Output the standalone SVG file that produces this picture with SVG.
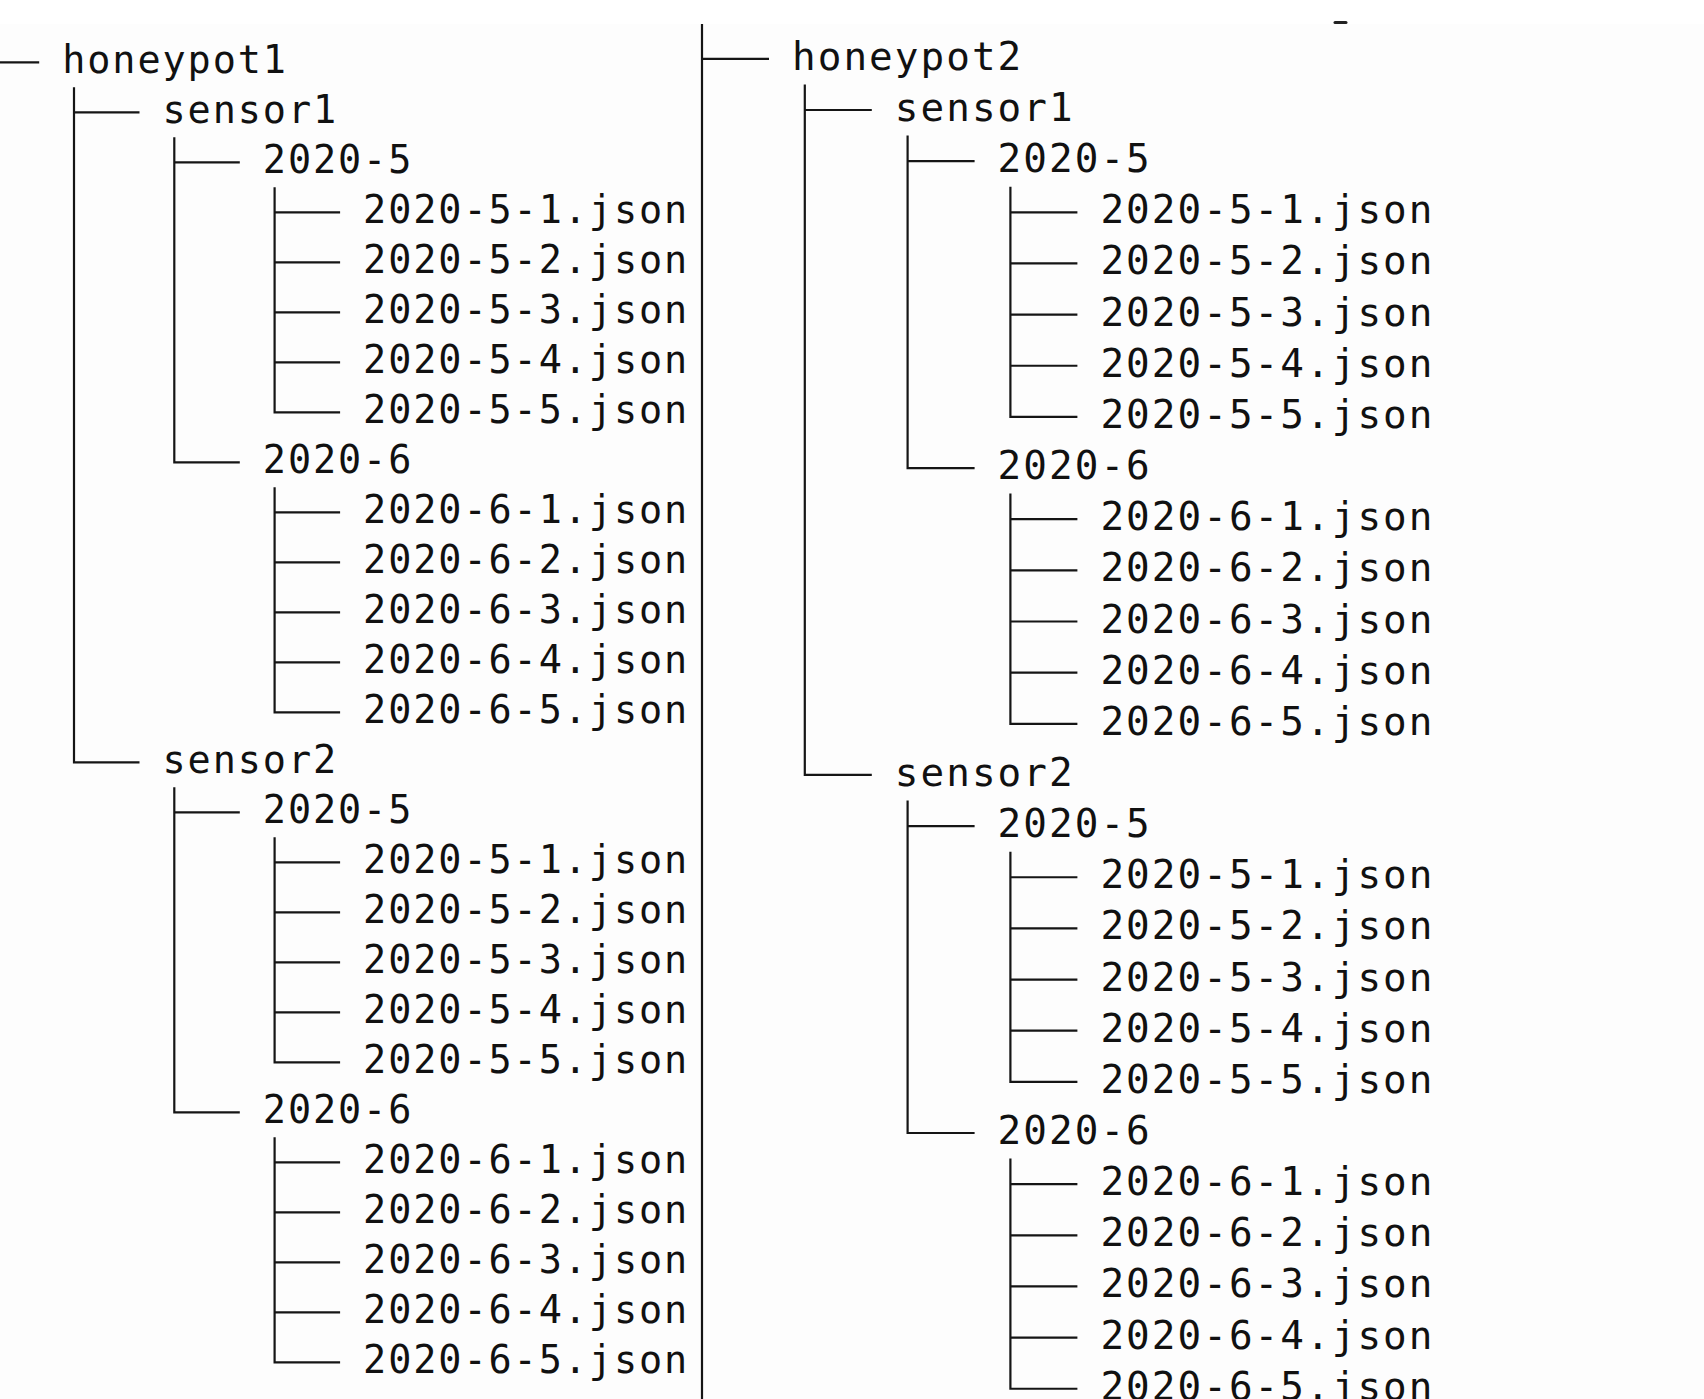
<svg xmlns="http://www.w3.org/2000/svg" width="1704" height="1399" viewBox="0 0 1704 1399">
  <style>
    .t { font-family: "DejaVu Sans Mono", "Liberation Mono", monospace; fill: #111; }
    .tl { font-size: 38.5px; letter-spacing: 1.9px; }
    .tr { font-size: 39.3px; letter-spacing: 2.04px; }
    .c path { fill: none; stroke: #151515; stroke-width: 2.2; stroke-linejoin: miter; stroke-linecap: butt; }
  </style>

  <!-- page background -->
  <rect x="0" y="0" width="1704" height="1399" fill="#ffffff"/>
  <rect x="0" y="24" width="1704" height="1375" fill="#fdfdfd"/>
  <!-- clipped glyph fragment at the top edge -->
  <path d="M1335,22.5 H1346" stroke="#222" stroke-width="3" stroke-linecap="round"/>

  <!-- tree branches -->
  <g id="connectors" class="c">
    <!-- honeypot1 tree -->
    <path d="M-26.3,62.3 H39.2"/>
    <path d="M74,87.3 V762.3 H139.5 M74,112.3 H139.5"/>
    <path d="M174.3,137.3 V462.3 H239.8 M174.3,162.3 H239.8"/>
    <path d="M174.3,787.3 V1112.3 H239.8 M174.3,812.3 H239.8"/>
    <path d="M274.6,187.3 V412.3 H340.1 M274.6,212.3 H340.1 M274.6,262.3 H340.1 M274.6,312.3 H340.1 M274.6,362.3 H340.1"/>
    <path d="M274.6,487.3 V712.3 H340.1 M274.6,512.3 H340.1 M274.6,562.3 H340.1 M274.6,612.3 H340.1 M274.6,662.3 H340.1"/>
    <path d="M274.6,837.3 V1062.3 H340.1 M274.6,862.3 H340.1 M274.6,912.3 H340.1 M274.6,962.3 H340.1 M274.6,1012.3 H340.1"/>
    <path d="M274.6,1137.3 V1362.3 H340.1 M274.6,1162.3 H340.1 M274.6,1212.3 H340.1 M274.6,1262.3 H340.1 M274.6,1312.3 H340.1"/>

    <!-- honeypot2 tree -->
    <path d="M702,24 V1399 M702,58.85 H769"/>
    <path d="M804.8,84.4 V774.95 H871.8 M804.8,110 H871.8"/>
    <path d="M907.6,135.55 V468.05 H974.6 M907.6,161.15 H974.6"/>
    <path d="M907.6,800.5 V1133 H974.6 M907.6,826.1 H974.6"/>
    <path d="M1010.4,186.7 V416.9 H1077.4 M1010.4,212.3 H1077.4 M1010.4,263.45 H1077.4 M1010.4,314.6 H1077.4 M1010.4,365.75 H1077.4"/>
    <path d="M1010.4,493.6 V723.8 H1077.4 M1010.4,519.2 H1077.4 M1010.4,570.35 H1077.4 M1010.4,621.5 H1077.4 M1010.4,672.65 H1077.4"/>
    <path d="M1010.4,851.65 V1081.85 H1077.4 M1010.4,877.25 H1077.4 M1010.4,928.4 H1077.4 M1010.4,979.55 H1077.4 M1010.4,1030.7 H1077.4"/>
    <path d="M1010.4,1158.55 V1388.75 H1077.4 M1010.4,1184.15 H1077.4 M1010.4,1235.3 H1077.4 M1010.4,1286.45 H1077.4 M1010.4,1337.6 H1077.4"/>
  </g>

  <!-- honeypot1 -->
  <g id="hp1"><text class="t tl" x="62.2" y="72.8">honeypot1</text></g>
  <g id="hp1-s1"><text class="t tl" x="162.5" y="122.8">sensor1</text></g>
  <g id="hp1-s1-m5"><text class="t tl" x="262.8" y="172.8">2020-5</text></g>
  <g id="hp1-s1-m5-1"><text class="t tl" x="363.1" y="222.8">2020-5-1.json</text></g>
  <g id="hp1-s1-m5-2"><text class="t tl" x="363.1" y="272.8">2020-5-2.json</text></g>
  <g id="hp1-s1-m5-3"><text class="t tl" x="363.1" y="322.8">2020-5-3.json</text></g>
  <g id="hp1-s1-m5-4"><text class="t tl" x="363.1" y="372.8">2020-5-4.json</text></g>
  <g id="hp1-s1-m5-5"><text class="t tl" x="363.1" y="422.8">2020-5-5.json</text></g>
  <g id="hp1-s1-m6"><text class="t tl" x="262.8" y="472.8">2020-6</text></g>
  <g id="hp1-s1-m6-1"><text class="t tl" x="363.1" y="522.8">2020-6-1.json</text></g>
  <g id="hp1-s1-m6-2"><text class="t tl" x="363.1" y="572.8">2020-6-2.json</text></g>
  <g id="hp1-s1-m6-3"><text class="t tl" x="363.1" y="622.8">2020-6-3.json</text></g>
  <g id="hp1-s1-m6-4"><text class="t tl" x="363.1" y="672.8">2020-6-4.json</text></g>
  <g id="hp1-s1-m6-5"><text class="t tl" x="363.1" y="722.8">2020-6-5.json</text></g>
  <g id="hp1-s2"><text class="t tl" x="162.5" y="772.8">sensor2</text></g>
  <g id="hp1-s2-m5"><text class="t tl" x="262.8" y="822.8">2020-5</text></g>
  <g id="hp1-s2-m5-1"><text class="t tl" x="363.1" y="872.8">2020-5-1.json</text></g>
  <g id="hp1-s2-m5-2"><text class="t tl" x="363.1" y="922.8">2020-5-2.json</text></g>
  <g id="hp1-s2-m5-3"><text class="t tl" x="363.1" y="972.8">2020-5-3.json</text></g>
  <g id="hp1-s2-m5-4"><text class="t tl" x="363.1" y="1022.8">2020-5-4.json</text></g>
  <g id="hp1-s2-m5-5"><text class="t tl" x="363.1" y="1072.8">2020-5-5.json</text></g>
  <g id="hp1-s2-m6"><text class="t tl" x="262.8" y="1122.8">2020-6</text></g>
  <g id="hp1-s2-m6-1"><text class="t tl" x="363.1" y="1172.8">2020-6-1.json</text></g>
  <g id="hp1-s2-m6-2"><text class="t tl" x="363.1" y="1222.8">2020-6-2.json</text></g>
  <g id="hp1-s2-m6-3"><text class="t tl" x="363.1" y="1272.8">2020-6-3.json</text></g>
  <g id="hp1-s2-m6-4"><text class="t tl" x="363.1" y="1322.8">2020-6-4.json</text></g>
  <g id="hp1-s2-m6-5"><text class="t tl" x="363.1" y="1372.8">2020-6-5.json</text></g>

  <!-- honeypot2 -->
  <g id="hp2"><text class="t tr" x="792" y="69.85">honeypot2</text></g>
  <g id="hp2-s1"><text class="t tr" x="894.8" y="121">sensor1</text></g>
  <g id="hp2-s1-m5"><text class="t tr" x="997.6" y="172.15">2020-5</text></g>
  <g id="hp2-s1-m5-1"><text class="t tr" x="1100.4" y="223.3">2020-5-1.json</text></g>
  <g id="hp2-s1-m5-2"><text class="t tr" x="1100.4" y="274.45">2020-5-2.json</text></g>
  <g id="hp2-s1-m5-3"><text class="t tr" x="1100.4" y="325.6">2020-5-3.json</text></g>
  <g id="hp2-s1-m5-4"><text class="t tr" x="1100.4" y="376.75">2020-5-4.json</text></g>
  <g id="hp2-s1-m5-5"><text class="t tr" x="1100.4" y="427.9">2020-5-5.json</text></g>
  <g id="hp2-s1-m6"><text class="t tr" x="997.6" y="479.05">2020-6</text></g>
  <g id="hp2-s1-m6-1"><text class="t tr" x="1100.4" y="530.2">2020-6-1.json</text></g>
  <g id="hp2-s1-m6-2"><text class="t tr" x="1100.4" y="581.35">2020-6-2.json</text></g>
  <g id="hp2-s1-m6-3"><text class="t tr" x="1100.4" y="632.5">2020-6-3.json</text></g>
  <g id="hp2-s1-m6-4"><text class="t tr" x="1100.4" y="683.65">2020-6-4.json</text></g>
  <g id="hp2-s1-m6-5"><text class="t tr" x="1100.4" y="734.8">2020-6-5.json</text></g>
  <g id="hp2-s2"><text class="t tr" x="894.8" y="785.95">sensor2</text></g>
  <g id="hp2-s2-m5"><text class="t tr" x="997.6" y="837.1">2020-5</text></g>
  <g id="hp2-s2-m5-1"><text class="t tr" x="1100.4" y="888.25">2020-5-1.json</text></g>
  <g id="hp2-s2-m5-2"><text class="t tr" x="1100.4" y="939.4">2020-5-2.json</text></g>
  <g id="hp2-s2-m5-3"><text class="t tr" x="1100.4" y="990.55">2020-5-3.json</text></g>
  <g id="hp2-s2-m5-4"><text class="t tr" x="1100.4" y="1041.7">2020-5-4.json</text></g>
  <g id="hp2-s2-m5-5"><text class="t tr" x="1100.4" y="1092.85">2020-5-5.json</text></g>
  <g id="hp2-s2-m6"><text class="t tr" x="997.6" y="1144">2020-6</text></g>
  <g id="hp2-s2-m6-1"><text class="t tr" x="1100.4" y="1195.15">2020-6-1.json</text></g>
  <g id="hp2-s2-m6-2"><text class="t tr" x="1100.4" y="1246.3">2020-6-2.json</text></g>
  <g id="hp2-s2-m6-3"><text class="t tr" x="1100.4" y="1297.45">2020-6-3.json</text></g>
  <g id="hp2-s2-m6-4"><text class="t tr" x="1100.4" y="1348.6">2020-6-4.json</text></g>
  <g id="hp2-s2-m6-5"><text class="t tr" x="1100.4" y="1399.75">2020-6-5.json</text></g>
</svg>
